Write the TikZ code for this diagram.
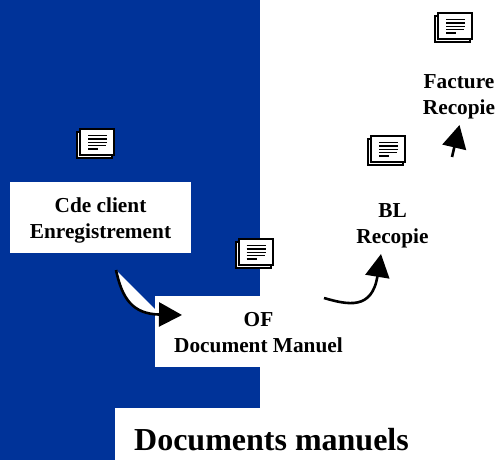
\documentclass[tikz,border=0pt]{standalone}
\usepackage{fontspec}
\setmainfont{Liberation Serif}
\usetikzlibrary{arrows.meta}
\definecolor{bluebg}{HTML}{003399}
\tikzset{
  x=1pt,y=-1pt,
  whitebox/.style={fill=white,draw=none,inner sep=0pt,anchor=north west},
  lbl/.style={font=\fontsize{21.3}{26}\selectfont\bfseries,align=center,text=black,inner sep=0pt},
  conn/.style={line width=2.6pt,draw=black},
  bighead/.style={-{Triangle[length=23pt,width=24pt,fill=black]}},
  docicon/.pic={
    \draw[line width=2pt,fill=white] (1,4) rectangle (36,30);
    \draw[line width=2pt,fill=white] (4,1) rectangle (38.2,27);
    \foreach \yy/\xx in {7.5/31,11/31,14.4/31,17.6/30,21/22}{
      \draw[line width=1.7pt] (12,\yy) -- (\xx,\yy);
    }
  }
}
\begin{document}
\begin{tikzpicture}
\useasboundingbox (0,0) rectangle (497,460);
\fill[white] (0,0) rectangle (497,460);
\node[fill=bluebg,inner sep=0pt,anchor=north west,minimum width=260pt,minimum height=460pt] (bg) at (0,0) {};
\node[whitebox,minimum width=181pt,minimum height=71pt] (cdebox) at (10,182) {};
\node[whitebox,minimum width=105pt,minimum height=71pt] (ofbox) at (155,296) {};
\node[whitebox,minimum width=145pt,minimum height=52pt] (titlebox) at (115,408) {};
\pic at (76,128) {docicon};
\pic at (234.5,238) {docicon};
\pic at (434,12) {docicon};
\pic at (367,135) {docicon};
\node[lbl] (cde) at (100.5,220.5) {Cde client\\Enregistrement};
\node[lbl] (of) at (258.5,333) {OF\\Document Manuel};
\node[lbl] (fact) at (459,97) {Facture\\Recopie};
\node[lbl] (bl) at (392.5,226) {BL\\Recopie};
\node[inner sep=0pt,font=\fontsize{32}{35}\selectfont\bfseries] (title) at (271.5,440) {Documents manuels};
\coordinate (a1s) at (116,270);
\coordinate (a1e) at (182,315);
\coordinate (a2s) at (324,298);
\coordinate (a2e) at (381,254);
\coordinate (a3s) at (452,157);
\coordinate (a3e) at (459.5,125);
\fill[white] (a1s) .. controls (122,298) and (132,314) .. (160,314) -- cycle;
\draw[conn,bighead] (a1s) .. controls (122,298) and (132,314) .. (a1e);
\draw[conn,bighead] (a2s) .. controls (348,305) and (372,310) .. (a2e);
\draw[conn,bighead] (a3s) -- (a3e);
\end{tikzpicture}
\end{document}
